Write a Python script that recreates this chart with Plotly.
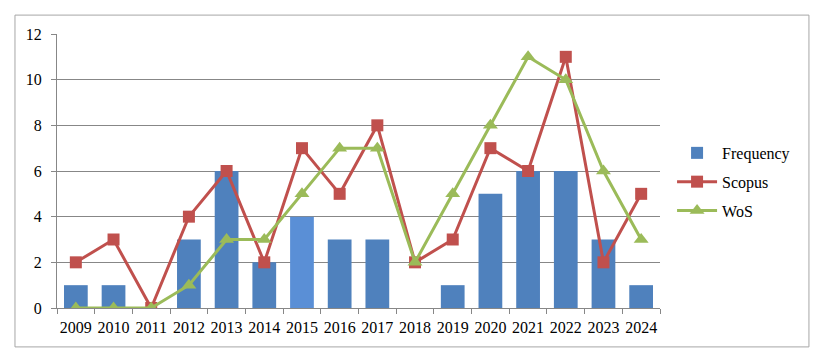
import plotly.graph_objects as go

years = ["2009", "2010", "2011", "2012", "2013", "2014", "2015", "2016",
         "2017", "2018", "2019", "2020", "2021", "2022", "2023", "2024"]
frequency = [1, 1, 0, 3, 6, 2, 4, 3, 3, 0, 1, 5, 6, 6, 3, 1]
scopus = [2, 3, 0, 4, 6, 2, 7, 5, 8, 2, 3, 7, 6, 11, 2, 5]
wos = [0, 0, 0, 1, 3, 3, 5, 7, 7, 2, 5, 8, 11, 10, 6, 3]

bar_colors = ["#4F81BD"] * len(years)
bar_colors[6] = "#5A8FD6"

fig = go.Figure()

fig.add_bar(x=years, y=frequency, name="Frequency", legendgroup="f",
            marker=dict(color=bar_colors, line_width=0))
fig.add_scatter(x=years, y=scopus, name="Scopus", mode="lines+markers", legendgroup="s",
                line=dict(color="#C0504D", width=3),
                marker=dict(symbol="square", size=12, color="#C0504D"))
fig.add_scatter(x=years, y=wos, name="WoS", mode="lines+markers", legendgroup="w",
                line=dict(color="#9BBB59", width=3),
                marker=dict(symbol="triangle-up", size=13, color="#9BBB59"))

fig.update_layout(
    width=814, height=343,
    margin=dict(l=49, r=162, t=26, b=43),
    paper_bgcolor="white", plot_bgcolor="white",
    font=dict(family="Liberation Serif, Times New Roman, serif", size=16, color="black"),
    bargap=0.37,
    showlegend=True,
    legend=dict(x=1.02, y=0.46, xanchor="left", yanchor="middle",
                font=dict(size=16), tracegroupgap=5, itemwidth=40),
    xaxis=dict(showgrid=False, showline=True, linecolor="#878787", linewidth=1,
               ticks="outside", tickson="boundaries", ticklen=5, tickcolor="#878787",
               ticklabelstandoff=5,
               tickangle=0, automargin=False, range=[-0.5, 15.5]),
    yaxis=dict(range=[0, 12], dtick=2, showgrid=True, gridcolor="#878787", gridwidth=1,
               showline=True, linecolor="#878787", linewidth=1, automargin=False,
               ticks="outside", ticklen=5, tickcolor="#878787", zeroline=False,
               ticklabelstandoff=6),
    shapes=[dict(type="rect", xref="paper", yref="paper",
                 x0=-0.0697, x1=1.247, y0=-0.142, y1=1.069,
                 line=dict(color="#A6A6A6", width=1))],
)

fig.write_html("out.html")
